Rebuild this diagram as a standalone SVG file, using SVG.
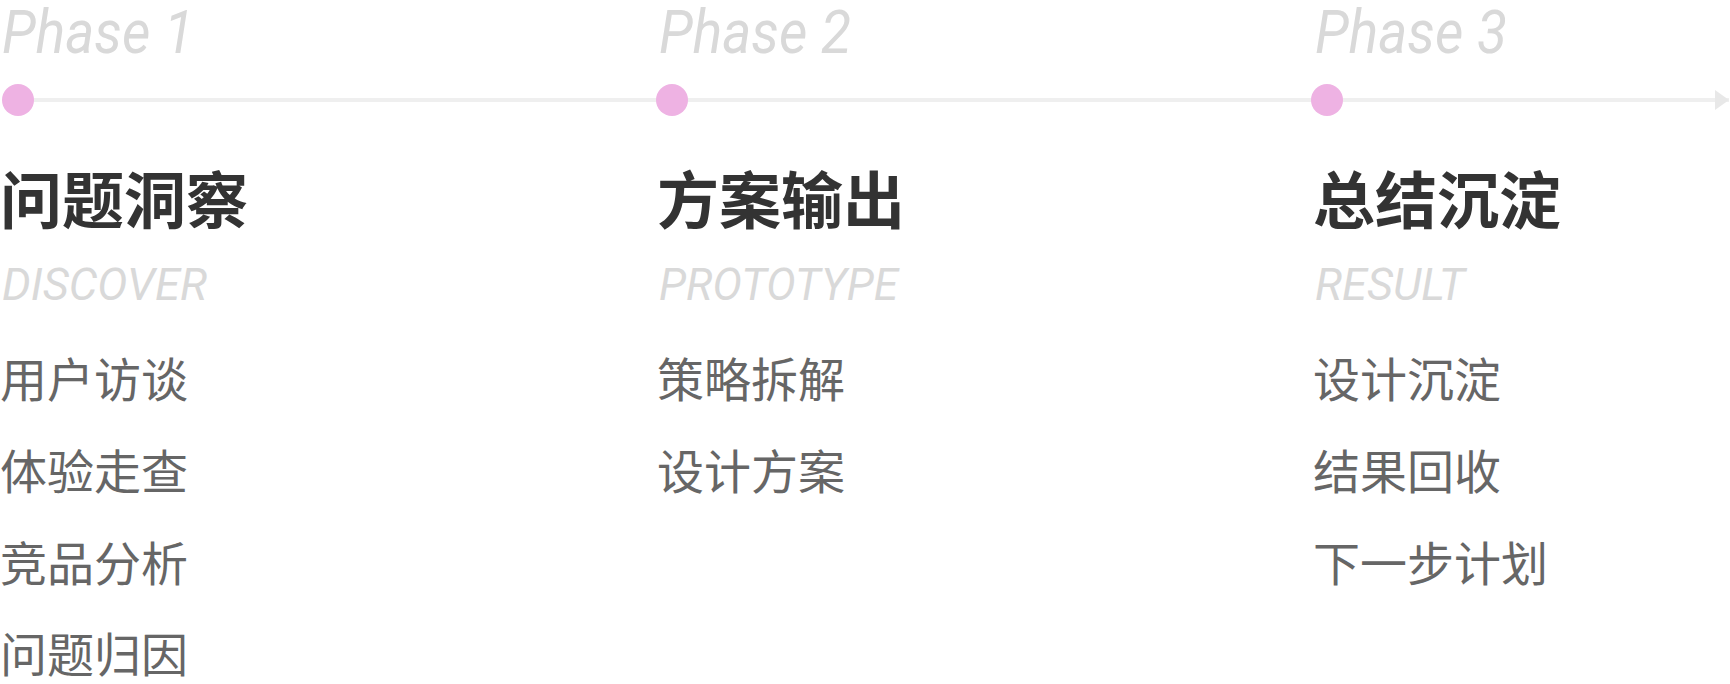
<svg xmlns="http://www.w3.org/2000/svg" width="1730" height="684" viewBox="0 0 1730 684">
<style>
.ph{font-family:Roboto,"Liberation Sans",sans-serif;font-style:italic;font-size:60px;fill:#d9d9d9}
.en{font-family:Roboto,"Liberation Sans",sans-serif;font-style:italic;font-size:44px;fill:#d9d9d9}
.t{font-family:"Noto Sans CJK SC",sans-serif;font-weight:bold;font-size:62px;fill:#333}
.i{font-family:"Noto Sans CJK SC",sans-serif;font-size:47px;fill:#666}
.dot{fill:#eeb2e3}
</style>
<defs><marker id="ah" markerWidth="14" markerHeight="20" refX="14" refY="10" orient="auto" markerUnits="userSpaceOnUse"><path d="M0,0 L14,10 L0,20Z" fill="#e8e8e8"/></marker></defs>
<g id="connectors"><line x1="18" y1="100" x2="1729" y2="100" stroke="#efefef" stroke-width="4" marker-end="url(#ah)"/></g>
<g id="phase1">
<text class="ph" x="2" y="53" textLength="192" lengthAdjust="spacingAndGlyphs">Phase 1</text>
<circle class="dot" cx="18" cy="100" r="16"/>
<text class="t" x="0" y="224">问题洞察</text>
<text class="en" x="2" y="300" textLength="205" lengthAdjust="spacingAndGlyphs">DISCOVER</text>
<text class="i" x="0" y="397">用户访谈</text>
<text class="i" x="0" y="489">体验走查</text>
<text class="i" x="0" y="581">竞品分析</text>
<text class="i" x="0" y="672">问题归因</text>
</g>
<g id="phase2">
<text class="ph" x="659" y="53" textLength="192" lengthAdjust="spacingAndGlyphs">Phase 2</text>
<circle class="dot" cx="672" cy="100" r="16"/>
<text class="t" x="657" y="224">方案输出</text>
<text class="en" x="659" y="300" textLength="239" lengthAdjust="spacingAndGlyphs">PROTOTYPE</text>
<text class="i" x="657" y="397">策略拆解</text>
<text class="i" x="657" y="489">设计方案</text>
</g>
<g id="phase3">
<text class="ph" x="1315" y="53" textLength="192" lengthAdjust="spacingAndGlyphs">Phase 3</text>
<circle class="dot" cx="1327" cy="100" r="16"/>
<text class="t" x="1313" y="224">总结沉淀</text>
<text class="en" x="1315" y="300" textLength="150" lengthAdjust="spacingAndGlyphs">RESULT</text>
<text class="i" x="1313" y="397">设计沉淀</text>
<text class="i" x="1313" y="489">结果回收</text>
<text class="i" x="1313" y="581">下一步计划</text>
</g>
</svg>
